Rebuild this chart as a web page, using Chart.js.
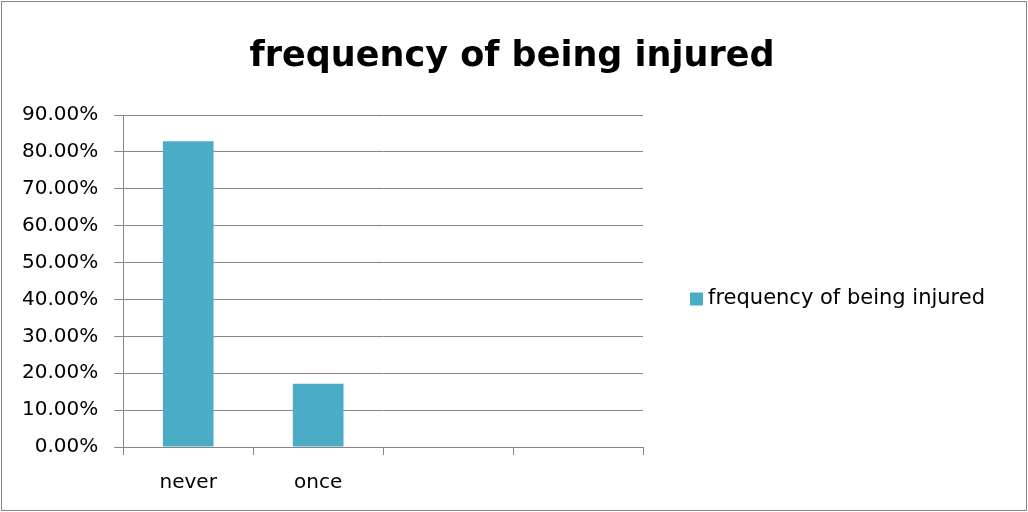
<!DOCTYPE html>
<html>
<head>
<meta charset="utf-8">
<script src="https://cdn.jsdelivr.net/npm/chart.js@4/dist/chart.umd.min.js"></script>
<style>
html,body{margin:0;padding:0;background:#fff;}
#wrap{width:1028px;height:512px;position:relative;}
</style>
</head>
<body>
<div id="wrap"><canvas id="c" width="1028" height="512"></canvas></div>
<script>
const chartTitle = "frequency of being injured";
const seriesName = "frequency of being injured";
const categories = ["never", "once", "", ""];
const values = [0.8286, 0.1714, null, null];
const yTicks = [0, 0.1, 0.2, 0.3, 0.4, 0.5, 0.6, 0.7, 0.8, 0.9];

const FONT = "'DejaVu Sans', sans-serif";
const GRID = "#868686";

const borderPlugin = {
  id: 'outerBorder',
  afterDraw(chart) {
    const ctx = chart.ctx;
    ctx.save();
    ctx.strokeStyle = GRID;
    ctx.lineWidth = 1;
    ctx.strokeRect(1.5, 1.5, chart.width - 3, chart.height - 3);
    ctx.restore();
  }
};

// Excel-style legend on the right, drawn from the dataset's own label and colour
const sideLegend = {
  id: 'sideLegend',
  afterDraw(chart) {
    const ctx = chart.ctx;
    const ds = chart.data.datasets[0];
    const boxX = chart.chartArea.right + 47;
    const cy = 299;
    ctx.save();
    ctx.fillStyle = ds.backgroundColor;
    ctx.fillRect(boxX, cy - 6.5, 13, 13);
    ctx.fillStyle = '#000';
    ctx.font = "21px " + FONT;
    ctx.textBaseline = 'middle';
    ctx.textAlign = 'left';
    ctx.fillText(ds.label, boxX + 18, cy);
    ctx.restore();
  }
};

new Chart(document.getElementById('c'), {
  type: 'bar',
  data: {
    labels: categories,
    datasets: [{
      label: seriesName,
      data: values,
      backgroundColor: '#4BACC6',
      borderWidth: 0,
      categoryPercentage: 1,
      barPercentage: 0.39
    }]
  },
  options: {
    responsive: false,
    animation: false,
    devicePixelRatio: 1,
    layout: { padding: { left: 6, right: 10, top: 10, bottom: 1 } },
    plugins: {
      title: {
        display: true,
        text: chartTitle,
        color: '#000',
        font: { family: FONT, size: 35, weight: 'bold', lineHeight: 1.2 },
        padding: { top: 26, bottom: 37 }
      },
      legend: { display: false },
      tooltip: { enabled: false }
    },
    scales: {
      x: {
        type: 'category',
        offset: true,
        grid: {
          offset: true,
          drawOnChartArea: false,
          drawTicks: true,
          tickLength: 8,
          color: GRID
        },
        border: { display: true, color: GRID, width: 1 },
        ticks: {
          color: '#000',
          font: { family: FONT, size: 20 },
          padding: 16,
          maxRotation: 0
        }
      },
      y: {
        min: 0,
        max: 0.9,
        afterBuildTicks(scale) { scale.ticks = yTicks.map(v => ({ value: v })); },
        grid: {
          color: GRID,
          drawTicks: true,
          tickLength: 9,
          tickColor: GRID
        },
        border: { display: true, color: GRID, width: 1 },
        ticks: {
          color: '#000',
          font: { family: FONT, size: 20 },
          padding: 16,
          callback: v => (v * 100).toFixed(2) + '%'
        }
      },
      // invisible right-hand axis that reserves the space used by the legend
      legendSpace: {
        type: 'linear',
        position: 'right',
        display: true,
        grid: { display: false },
        border: { display: false },
        ticks: { display: false },
        afterFit(scale) { scale.width = 375; }
      }
    }
  },
  plugins: [borderPlugin, sideLegend]
});
</script>
</body>
</html>
